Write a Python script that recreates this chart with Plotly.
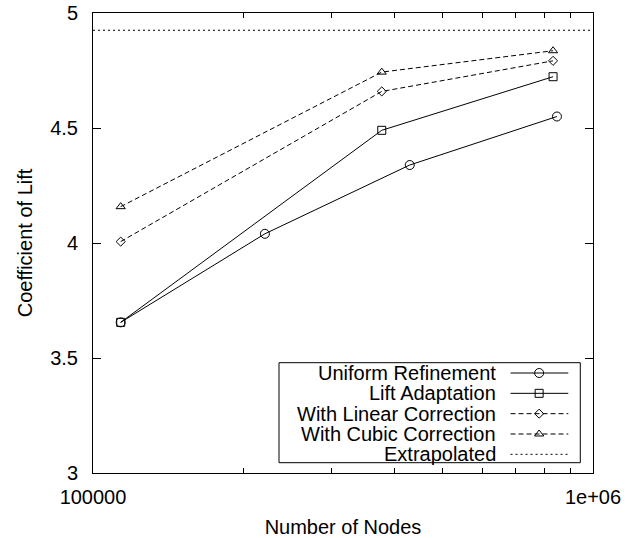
import plotly.graph_objects as go

# ---------------- data ----------------
uniform_nodes = [113600, 220700, 430000, 847000]
uniform_cl = [3.655, 4.040, 4.339, 4.550]

adapt_nodes = [113600, 378000, 832000]
adapt_cl = [3.655, 4.490, 4.723]

linear_nodes = [113600, 378000, 832000]
linear_cl = [4.006, 4.659, 4.792]

cubic_nodes = [113600, 378000, 832000]
cubic_cl = [4.158, 4.743, 4.836]

extrapolated_cl = 4.925

x_range = [1e5, 1e6]
y_range = [3, 5]
x_tickvals = [1e5, 1e6]
x_ticktext = ["100000", "1e+06"]
x_minor_vals = [2e5, 3e5, 4e5, 5e5, 6e5, 7e5, 8e5, 9e5]
y_tickvals = [3, 3.5, 4, 4.5, 5]
y_ticktext = ["3", "3.5", "4", "4.5", "5"]

legend_labels = ["Uniform Refinement", "Lift Adaptation",
                 "With Linear Correction", "With Cubic Correction", "Extrapolated"]

# ---------------- styles ----------------
FONT = "Liberation Sans, Arial, Helvetica, sans-serif"
FS = 20
styles = [
    dict(dash="solid", symbol="circle-open", size=9),
    dict(dash="solid", symbol="square-open", size=8),
    dict(dash="5px,3px", symbol="diamond-open", size=7),
    dict(dash="5px,3px", symbol="triangle-up-open", size=8),
    dict(dash="2px,3px", symbol=None, size=0),
]

fig = go.Figure()

series = [
    (uniform_nodes, uniform_cl),
    (adapt_nodes, adapt_cl),
    (linear_nodes, linear_cl),
    (cubic_nodes, cubic_cl),
]
for (xs, ys), st, name in zip(series, styles, legend_labels):
    fig.add_trace(go.Scatter(
        x=xs, y=ys, name=name, mode="lines+markers", showlegend=False,
        line=dict(color="black", width=1, dash=st["dash"]),
        marker=dict(symbol=st["symbol"], size=st["size"], color="black",
                    line=dict(color="black", width=1)),
        cliponaxis=False,
    ))

fig.add_trace(go.Scatter(
    x=x_range, y=[extrapolated_cl, extrapolated_cl], name=legend_labels[4],
    mode="lines", showlegend=False,
    line=dict(color="black", width=1, dash=styles[4]["dash"]),
))

# ---------------- custom legend (gnuplot style: text right, sample left) ----------------
LEG_X0, LEG_X1 = 0.372, 0.9746
LEG_Y0, LEG_Y1 = 0.0224, 0.2398
TEXT_X = 0.8104
SAMPLE_X0, SAMPLE_X1, SAMPLE_XM = 0.8351, 0.9506, 0.8923
ROW_TOP, ROW_STEP = 0.2174, 0.0442

fig.add_shape(type="rect", xref="paper", yref="paper",
              x0=LEG_X0, x1=LEG_X1, y0=LEG_Y0, y1=LEG_Y1,
              line=dict(color="black", width=1), fillcolor="rgba(0,0,0,0)",
              layer="above")

for i, (name, st) in enumerate(zip(legend_labels, styles)):
    ry = ROW_TOP - i * ROW_STEP
    fig.add_annotation(x=TEXT_X, y=ry, xref="paper", yref="paper",
                       text=name, showarrow=False, xanchor="right", yanchor="middle",
                       font=dict(family=FONT, size=FS, color="black"))
    fig.add_trace(go.Scatter(
        x=[SAMPLE_X0, SAMPLE_X1], y=[ry, ry], xaxis="x2", yaxis="y2",
        mode="lines", showlegend=False, hoverinfo="skip",
        line=dict(color="black", width=1, dash=st["dash"]),
    ))
    if st["symbol"]:
        fig.add_trace(go.Scatter(
            x=[SAMPLE_XM], y=[ry], xaxis="x2", yaxis="y2",
            mode="markers", showlegend=False, hoverinfo="skip",
            marker=dict(symbol=st["symbol"], size=st["size"], color="black",
                        line=dict(color="black", width=1)),
        ))

# invisible trace to activate the top tick axis
fig.add_trace(go.Scatter(x=x_range, y=y_range, xaxis="x3", yaxis="y",
                         mode="markers", marker=dict(opacity=0), showlegend=False,
                         hoverinfo="skip"))

axis_common = dict(showline=True, linecolor="black", linewidth=1, mirror="ticks",
                   ticks="inside", tickcolor="black", tickwidth=1, showgrid=False,
                   zeroline=False, automargin=False,
                   tickfont=dict(family=FONT, size=FS, color="black"))

fig.update_layout(
    width=632, height=538,
    margin=dict(l=93, r=39, t=13, b=65),
    paper_bgcolor="white", plot_bgcolor="white",
    showlegend=False,
    font=dict(family=FONT, size=FS, color="black"),
    xaxis=dict(type="log", range=[5, 6], tickvals=x_tickvals, ticktext=x_ticktext,
               ticklen=8, ticklabelstandoff=6,
               minor=dict(tickvals=x_minor_vals, ticks="inside", ticklen=5,
                          tickcolor="black", tickwidth=1, showgrid=False),
               title=dict(text="Number of Nodes", font=dict(family=FONT, size=FS),
                          standoff=14),
               **axis_common),
    yaxis=dict(range=y_range, tickvals=y_tickvals, ticktext=y_ticktext, ticklen=8,
               ticklabelstandoff=10,
               title=dict(text="Coefficient of Lift", font=dict(family=FONT, size=FS),
                          standoff=12),
               **axis_common),
    xaxis2=dict(overlaying="x", range=[0, 1], visible=False, domain=[0, 1]),
    yaxis2=dict(overlaying="y", range=[0, 1], visible=False, domain=[0, 1]),
    xaxis3=dict(overlaying="x", side="top", anchor="y", type="log", range=[5, 6],
                tickvals=x_minor_vals, showticklabels=False, ticks="inside",
                ticklen=5, tickcolor="black", tickwidth=1, showgrid=False,
                showline=False, zeroline=False, automargin=False),
)

fig.write_html("out.html")
